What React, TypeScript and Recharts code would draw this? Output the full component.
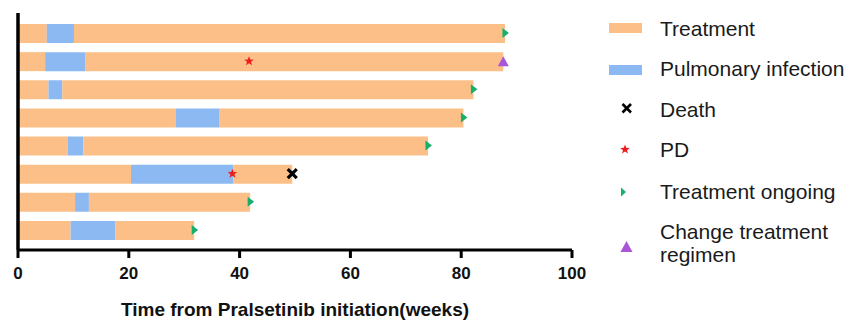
import React from 'react';
import { ComposedChart, Bar, Scatter, XAxis, YAxis } from 'recharts';

// ---- data (weeks from Pralsetinib initiation) ----
const patients = ['P1', 'P2', 'P3', 'P4', 'P5', 'P6', 'P7', 'P8'];
const infectionStart = [5.2, 4.9, 5.5, 28.5, 9.0, 20.4, 10.3, 9.5];
const infectionEnd = [10.1, 12.2, 8.0, 36.4, 11.8, 38.9, 12.8, 17.6];
const treatmentEnd = [87.9, 87.6, 82.2, 80.4, 74.0, 49.5, 41.9, 31.8];
const pdWeeks: (number | null)[] = [null, 41.7, null, null, null, 38.7, null, null];
const deathWeeks: (number | null)[] = [null, null, null, null, null, 49.5, null, null];
const ongoingWeeks: (number | null)[] = [87.9, null, 82.2, 80.4, 74.0, null, 41.9, 31.8];
const changeRegimenWeeks: (number | null)[] = [null, 87.6, null, null, null, null, null, null];
const xTicks = [0, 20, 40, 60, 80, 100];
const legendLabels = ['Treatment', 'Pulmonary infection', 'Death', 'PD', 'Treatment ongoing'];
const changeLabelLines = ['Change treatment', 'regimen'];

const ORANGE = '#FBBF87';
const BLUE = '#8DB9F2';
const GREEN = '#17B06B';
const PURPLE = '#A855D8';
const RED = '#EE1C1C';
const FONT = '"Liberation Sans", Arial, Helvetica, sans-serif';

const rows = patients.map((name, i) => ({
  name,
  pre: infectionStart[i],
  infection: infectionEnd[i] - infectionStart[i],
  post: treatmentEnd[i] - infectionEnd[i],
  pd: pdWeeks[i] ?? undefined,
  death: deathWeeks[i] ?? undefined,
  ongoing: ongoingWeeks[i] ?? undefined,
  change: changeRegimenWeeks[i] ?? undefined,
}));

const starPoints = (cx: number, cy: number, R: number, r: number) =>
  Array.from({ length: 10 }, (_, k) => {
    const a = -Math.PI / 2 + (k * Math.PI) / 5;
    const rad = k % 2 === 0 ? R : r;
    return `${cx + rad * Math.cos(a)},${cy + rad * Math.sin(a)}`;
  }).join(' ');

const ok = (p: any) => p && typeof p.cx === 'number' && typeof p.cy === 'number' && !isNaN(p.cx) && !isNaN(p.cy);

const StarShape = (p: any) =>
  ok(p) ? <polygon points={starPoints(p.cx, p.cy, 5, 2.1)} fill={RED} /> : <g />;

const CrossShape = (p: any) =>
  ok(p) ? (
    <g stroke="#000" strokeWidth={3.2} strokeLinecap="butt">
      <line x1={p.cx - 4.5} y1={p.cy - 4.5} x2={p.cx + 4.5} y2={p.cy + 4.5} />
      <line x1={p.cx - 4.5} y1={p.cy + 4.5} x2={p.cx + 4.5} y2={p.cy - 4.5} />
    </g>
  ) : (
    <g />
  );

const ArrowShape = (p: any) =>
  ok(p) ? (
    <polygon points={`${p.cx - 2.5},${p.cy - 5} ${p.cx + 4},${p.cy} ${p.cx - 2.5},${p.cy + 5}`} fill={GREEN} />
  ) : (
    <g />
  );

const TriangleShape = (p: any) =>
  ok(p) ? (
    <polygon points={`${p.cx - 5.5},${p.cy + 5} ${p.cx + 5.5},${p.cy + 5} ${p.cx},${p.cy - 5}`} fill={PURPLE} />
  ) : (
    <g />
  );

const Tick = (props: any) => {
  const { x, y, payload } = props;
  return (
    <text x={x} y={y + 19} textAnchor="middle" fontSize={17} fontWeight="bold" fill="#111" fontFamily={FONT}>
      {payload.value}
    </text>
  );
};

const TitleLabel = (props: any) => {
  const vb = props.viewBox || { x: 18, y: 250, width: 553, height: 70 };
  return (
    <text
      x={vb.x + vb.width / 2}
      y={vb.y + 65.5}
      textAnchor="middle"
      fontSize={19}
      fontWeight="bold"
      fill="#111"
      fontFamily={FONT}
    >
      Time from Pralsetinib initiation(weeks)
    </text>
  );
};

const Legend = () => {
  const tx = 660;
  const baselines = [36, 76, 116.5, 157, 199];
  return (
    <svg
      width={858}
      height={320}
      style={{ position: 'absolute', left: 0, top: 0, pointerEvents: 'none' }}
    >
      <rect x={609} y={23} width={33} height={10} fill={ORANGE} />
      <rect x={609} y={65} width={33} height={10} fill={BLUE} />
      <g stroke="#000" strokeWidth={2.6}>
        <line x1={622.5} y1={104} x2={631} y2={112.5} />
        <line x1={622.5} y1={112.5} x2={631} y2={104} />
      </g>
      <polygon points={starPoints(625, 149.5, 5, 2.1)} fill={RED} />
      <polygon points={`621,187.5 626,192 621,196.5`} fill={GREEN} />
      <polygon points={`620.5,252 632.5,252 626.5,241`} fill={PURPLE} />
      {legendLabels.map((t, i) => (
        <text key={t} x={tx} y={baselines[i]} fontSize={21} fill="#1a1a1a" fontFamily={FONT}>
          {t}
        </text>
      ))}
      <text x={tx} y={239} fontSize={21} fill="#1a1a1a" fontFamily={FONT}>
        {changeLabelLines[0]}
      </text>
      <text x={tx} y={262} fontSize={21} fill="#1a1a1a" fontFamily={FONT}>
        {changeLabelLines[1]}
      </text>
    </svg>
  );
};

export default function App() {
  return (
    <div style={{ position: 'absolute', left: 0, top: 0, width: 858, height: 320, background: '#fff' }}>
      <ComposedChart
        width={858}
        height={320}
        data={rows}
        layout="vertical"
        margin={{ top: 13, right: 286, bottom: 0, left: 16 }}
      >
        <XAxis
          type="number"
          domain={[0, 100]}
          ticks={xTicks}
          allowDataOverflow
          tickSize={8}
          axisLine={{ stroke: '#000', strokeWidth: 3 }}
          tickLine={{ stroke: '#000', strokeWidth: 3 }}
          tick={<Tick />}
          height={70}
          label={<TitleLabel />}
        />
        <YAxis
          type="category"
          dataKey="name"
          width={2}
          tick={false}
          tickLine={false}
          axisLine={{ stroke: '#000', strokeWidth: 3.5 }}
          padding={{ top: 6, bottom: 6 }}
        />
        <Bar dataKey="pre" stackId="t" fill={ORANGE} barSize={19} isAnimationActive={false} />
        <Bar dataKey="infection" stackId="t" fill={BLUE} barSize={19} isAnimationActive={false} />
        <Bar dataKey="post" stackId="t" fill={ORANGE} barSize={19} isAnimationActive={false} />
        <Scatter dataKey="pd" shape={StarShape} isAnimationActive={false} />
        <Scatter dataKey="death" shape={CrossShape} isAnimationActive={false} />
        <Scatter dataKey="ongoing" shape={ArrowShape} isAnimationActive={false} />
        <Scatter dataKey="change" shape={TriangleShape} isAnimationActive={false} />
      </ComposedChart>
      <Legend />
    </div>
  );
}
